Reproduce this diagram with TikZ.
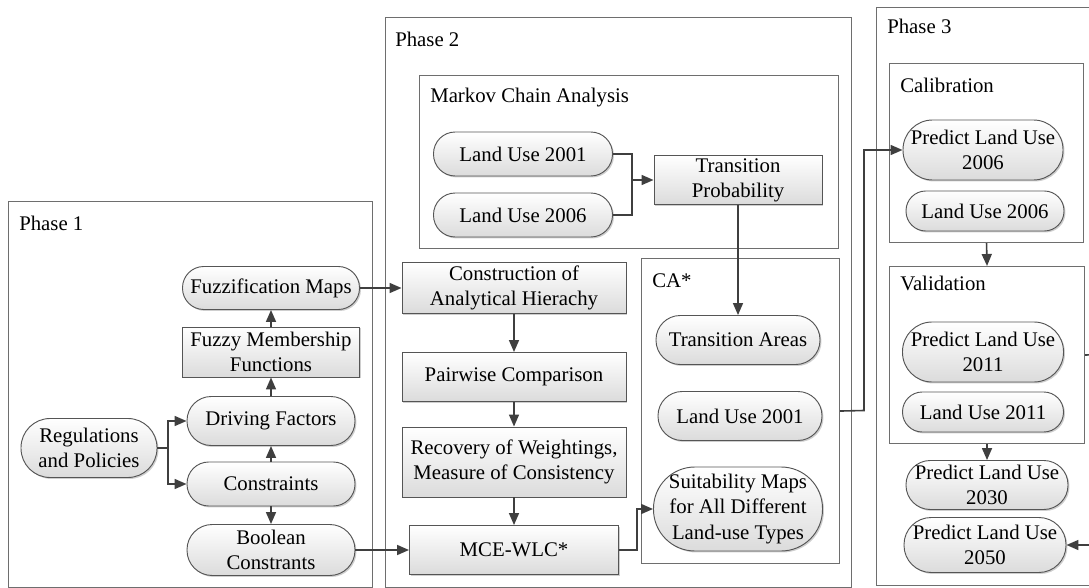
\documentclass[tikz,border=0pt]{standalone}
\usepackage{fontspec}
\setmainfont{Liberation Serif}
\usetikzlibrary{arrows.meta,shadows}
\definecolor{linegray}{HTML}{3F3F3F}
\definecolor{edgegray}{HTML}{555555}
\definecolor{framegray}{HTML}{6E6E6E}
\tikzset{
  every node/.style={font=\fontsize{15.6}{18.8}\selectfont, inner sep=0pt, align=center},
  wh/.style 2 args={minimum width=#1*0.75pt, minimum height=#2*0.75pt},
  framebox/.style 2 args={rectangle, draw=framegray, line width=0.8pt, anchor=north west, wh={#1}{#2}},
  title/.style={anchor=base west},
  filled/.style={draw=edgegray, line width=0.7pt, top color=white, bottom color=black!14,
    drop shadow={shadow xshift=1.1pt, shadow yshift=-1.1pt, fill=black!35, opacity=0.55}},
  pill/.style 2 args={rectangle, filled, rounded corners=#2*0.37pt, wh={#1}{#2}},
  procbox/.style 2 args={rectangle, filled, wh={#1}{#2}},
  link/.style={draw=linegray, line width=1.2pt},
  conn/.style={link, -{Triangle[length=9pt,width=7.5pt]}},
}
\begin{document}
\begin{tikzpicture}[x=0.75pt, y=-0.75pt]
\useasboundingbox (0,0) rectangle (1089,588);
\clip (0,0) rectangle (1089,588);

% ---------- frames ----------
\node[framebox={364}{386}] (ph1) at (8,201) {};
\node[framebox={466}{570}] (ph2) at (385,17) {};
\node[framebox={224}{578}] (ph3) at (876,7) {};
\node[framebox={419}{173}] (mca) at (419,75) {};
\node[framebox={198}{305}] (ca) at (641,258) {};
\node[framebox={194}{179}] (cal) at (889,63) {};
\node[framebox={195}{177}] (val) at (889,266) {};

\node[title] (t1) at (19,230) {Phase 1};
\node[title] (t2) at (395,47) {Phase 2};
\node[title] (t3) at (887,34) {Phase 3};
\node[title] (tm) at (430,103) {Markov Chain Analysis};
\node[title] (tc) at (652,287) {CA*};
\node[title] (tcal) at (900,93) {Calibration};
\node[title] (tval) at (900,290) {Validation};

% ---------- Phase 1 ----------
\node[pill={177}{43}] (fuzz) at (271,288) {Fuzzification Maps};
\node[procbox={177}{50}] (fmf) at (271,352) {Fuzzy Membership\\Functions};
\node[pill={168}{49}] (drv) at (271,421) {Driving Factors};
\node[pill={136}{59}] (reg) at (89,448) {Regulations\\and Policies};
\node[pill={168}{44}] (cons) at (271,484) {Constraints};
\node[pill={168}{51}] (bool) at (271,550) {Boolean\\Constrants};

% ---------- Phase 2 ----------
\node[pill={179}{44}] (lu01) at (523,154) {Land Use 2001};
\node[pill={179}{44}] (lu06) at (523,215) {Land Use 2006};
\node[procbox={168}{49}] (tp) at (738,180) {Transition\\Probability};
\node[procbox={224}{51}] (cah) at (514,288) {Construction of\\Analytical Hierachy};
\node[procbox={224}{49}] (pair) at (514,377) {Pairwise Comparison};
\node[procbox={224}{70}] (rec) at (514,462) {Recovery of Weightings,\\Measure of Consistency};
\node[procbox={209}{49}] (mce) at (514,550) {MCE-WLC*};
\node[pill={164}{49}] (ta) at (738,340) {Transition Areas};
\node[pill={164}{49}] (lu01b) at (740,416) {Land Use 2001};
\node[pill={169}{84}] (suit) at (738,509) {Suitability Maps\\for All Different\\Land-use Types};

% ---------- Phase 3 ----------
\node[pill={160}{60}] (p06) at (983,150) {Predict Land Use\\2006};
\node[pill={158}{40}] (lu06b) at (985,211) {Land Use 2006};
\node[pill={161}{60}] (p11) at (983,352) {Predict Land Use\\2011};
\node[pill={161}{40}] (lu11) at (983,412) {Land Use 2011};
\node[pill={162}{49}] (p30) at (987,485) {Predict Land Use\\2030};
\node[pill={162}{55}] (p50) at (985,545) {Predict Land Use\\2050};

% ---------- connectors ----------
\coordinate (jr) at (168,448);
\draw[link] (reg.east) -- (jr);
\draw[conn] (jr) |- (drv.west);
\draw[conn] (jr) |- (cons.west);
\draw[conn] (cons.north) -- (drv.south);
\draw[conn] (cons.south) -- (bool.north);
\draw[conn] (drv.north) -- (fmf.south);
\draw[conn] (fmf.north) -- (fuzz.south);
\draw[conn] (fuzz.east) -- (cah.west);
\draw[conn] (bool.east) -- (mce.west);

\coordinate (jm) at (632,180);
\draw[link] (lu01.east) -| (jm);
\draw[link] (lu06.east) -| (jm);
\draw[conn] (jm) -- (tp.west);
\draw[conn] (tp.south) -- (ta.north);
\draw[conn] (cah.south) -- (pair.north);
\draw[conn] (pair.south) -- (rec.north);
\draw[conn] (rec.south) -- (mce.north);
\coordinate (jw) at (637,550);
\draw[conn] (mce.east) -- (jw) |- (suit.west);

\coordinate (jc) at (864,410.5);
\draw[conn] (ca.east) -- (jc) |- (p06.west);
\draw[conn] (cal.south) -- (val.north);
\draw[conn] (val.south) -- (p30.north);
\coordinate (jv) at (1100,354.5);
\draw[conn] (val.east) -- (jv) |- (p50.east);
\end{tikzpicture}
\end{document}
